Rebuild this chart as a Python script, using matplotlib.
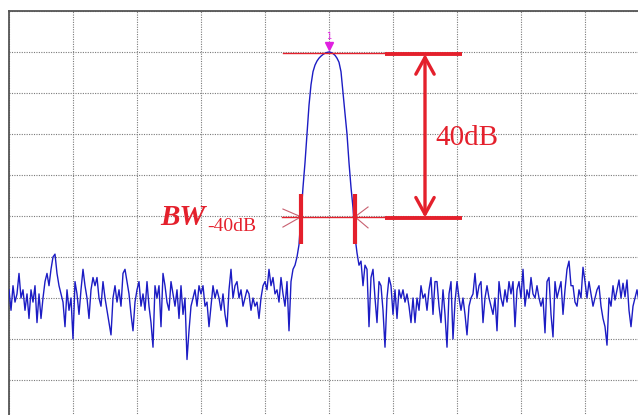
import numpy as np
import matplotlib
matplotlib.use("Agg")
import matplotlib.pyplot as plt

# ---- data: spectrum trace in dB relative to the peak, 32 points per division ----
left_noise_db = [
    -58, -63, -57, -61, -59, -54, -60, -58, -63, -59, -65, -58, -61, -57, -66, -59,
    -65, -60, -56, -54, -57, -53, -50, -49.3, -54, -57, -59, -61, -67, -58, -63, -60,
    -70, -56, -59, -64, -58, -53, -57, -60, -65, -58, -55, -57, -55, -60, -62, -56,
    -60, -63, -66, -69, -60, -57, -61, -58, -62, -54, -53, -56, -59, -64, -68, -61,
    -58, -56, -62, -59, -63, -56, -62, -66, -72, -57, -60, -57, -67, -54, -57, -61,
    -63, -56, -59, -62, -58, -65, -57, -64, -60, -75, -68, -62, -60, -58, -62, -57,
    -59, -57, -62, -61, -67, -62, -57, -60, -58, -60, -63, -59, -64, -67, -58, -53,
    -60, -57, -56, -60, -58, -62, -60, -58, -59, -63, -60, -62, -61, -65, -60, -57,
    -56, -58, -53, -57, -55, -59, -58, -61, -55, -59, -62, -56, -68, -56, -53, -52,
]
peak_db = [
    -50, -47, -40, -33, -27, -20, -13, -8, -4.8, -3.2, -2.2, -1.5, -1, -0.6, -0.3, -0.1,
    0, -0.1, -0.4, -0.8, -1.5, -2.5, -4.8, -10, -15, -20, -27, -33, -38, -45, -49, -52,
]
right_noise_db = [
    -51, -57, -52, -53, -67, -55, -53, -60, -66, -56, -57, -63, -72, -60, -55, -57,
    -64, -58, -65, -58, -60, -58, -61, -59, -62, -66, -60, -66, -60, -63, -57, -60,
    -59, -63, -58, -55, -64, -56, -56, -62, -66, -58, -64, -72, -59, -56, -70, -61,
    -56, -60, -63, -60, -64, -69, -62, -60, -59, -54, -60, -57, -56, -66, -60, -57,
    -60, -62, -64, -60, -68, -56, -60, -62, -58, -61, -56, -59, -56, -67, -58, -56,
    -60, -53, -62, -58, -60, -55, -59, -60, -57, -60, -62, -60, -68.5, -56, -55, -64,
    -69.5, -56, -60, -58, -56, -64, -58, -53, -51, -57, -57, -61, -62, -58, -60, -52.5,
    -56, -60, -56, -59, -62, -60, -58, -57, -62, -65, -67, -71.5, -60, -62, -57, -60.5,
    -58, -55.6, -60, -56.4, -59.7, -55.6, -63, -67, -62, -60, -58, -61,
]
points_per_div = 32
trace_db = np.array(left_noise_db + peak_db + right_noise_db, dtype=float)
freq_div = np.arange(len(trace_db)) / points_per_div

peak_level_db = 0.0
bw_level_db = -40.0
bw_left_div = 4.5625
bw_right_div = 5.406
peak_div = 5.0

RED = "#e4202c"
BLUE = "#1c1cc4"

W, H = 638, 415
fig = plt.figure(figsize=(W / 100, H / 100), dpi=100)
# axes: 10 x 10 divisions, 64 px x 41 px each, origin at pixel (9, 11)
ax = fig.add_axes([9 / W, (H - 421) / H, 640 / W, 410 / H])
ax.set_xlim(0, 10)
ax.set_ylim(-90, 10)
ax.set_xticks(np.arange(0, 11, 1))
ax.set_yticks(np.arange(-90, 11, 10))
ax.tick_params(length=0, labelbottom=False, labelleft=False)
ax.grid(True, linestyle=(0, (1, 1.2)), color="#7a7a7a", linewidth=0.8)
for s in ("right", "bottom"):
    ax.spines[s].set_visible(False)
for s in ("top", "left"):
    ax.spines[s].set_color("#555555")
    ax.spines[s].set_linewidth(1.3)

ax.plot(freq_div, trace_db, color=BLUE, lw=1.0, zorder=3, clip_on=True)

# peak reference line and -40 dB line
ax.plot([4.28, 5.875], [peak_level_db - 0.2, peak_level_db - 0.2], color=RED, lw=1.0, zorder=4)
ax.plot([5.875, 7.08], [peak_level_db - 0.45, peak_level_db - 0.45], color=RED, lw=2.8,
        solid_capstyle="butt", zorder=4)
ax.plot([4.27, 5.875], [bw_level_db - 0.2, bw_level_db - 0.2], color=RED, lw=1.0, zorder=4)
ax.plot([5.875, 7.08], [bw_level_db - 0.45, bw_level_db - 0.45], color=RED, lw=2.8,
        solid_capstyle="butt", zorder=4)

# double arrow 40 dB
ax.annotate("", xy=(6.5, peak_level_db - 0.5), xytext=(6.5, bw_level_db - 0.4),
            arrowprops=dict(arrowstyle="<->,head_length=0.6,head_width=0.33",
                            color=RED, lw=2.4, shrinkA=0, shrinkB=0,
                            mutation_scale=20), zorder=5)
ax.text(6.66, -20.9, "40dB", color=RED, fontsize=21, family="Liberation Serif",
        va="center", ha="left")

# BW markers
for xb in (bw_left_div, bw_right_div):
    ax.plot([xb, xb], [-34.6, -46.8], color=RED, lw=3.0, solid_capstyle="butt", zorder=5)
cross = "#c86070"
ax.plot([4.28, bw_left_div], [-38.3, -40.2], color=cross, lw=0.8, zorder=4)
ax.plot([4.28, bw_left_div], [-42.7, -40.2], color=cross, lw=0.8, zorder=4)
ax.plot([5.61, bw_right_div], [-37.8, -40.2], color=cross, lw=0.8, zorder=4)
ax.plot([5.61, bw_right_div], [-42.9, -40.2], color=cross, lw=0.8, zorder=4)

ax.text(3.07, -42.3, "BW", color=RED, fontsize=21, family="Liberation Serif",
        fontweight="bold", fontstyle="italic", ha="right", va="baseline")
ax.text(3.09, -43.7, "-40dB", color=RED, fontsize=14, family="Liberation Serif",
        ha="left", va="baseline")

# marker 1
ax.plot([peak_div], [1.4], marker="v", color="#e020e0", markersize=6, zorder=6)
ax.text(peak_div, 2.6, "1", color="#e020e0", fontsize=6, ha="center", va="bottom")

fig.savefig("out.png", dpi=100, facecolor="white")
